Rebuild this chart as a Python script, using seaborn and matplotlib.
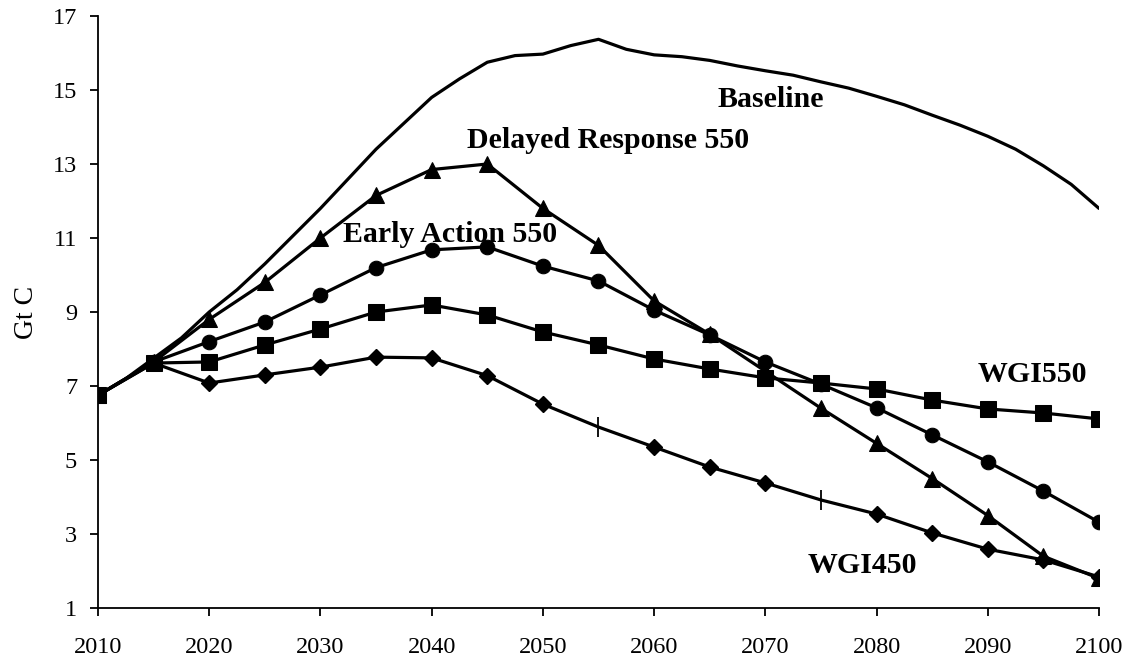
import pandas as pd
import matplotlib
matplotlib.use("Agg")
import matplotlib.pyplot as plt
import seaborn as sns

# data
years = [2010, 2015, 2020, 2025, 2030, 2035, 2040, 2045, 2050, 2055,
         2060, 2065, 2070, 2075, 2080, 2085, 2090, 2095, 2100]

baseline_years = [2010, 2012.5, 2015, 2017.5, 2020, 2022.5, 2025, 2027.5, 2030,
                  2032.5, 2035, 2037.5, 2040, 2042.5, 2045, 2047.5, 2050, 2052.5,
                  2055, 2057.5, 2060, 2062.5, 2065, 2067.5, 2070, 2072.5, 2075,
                  2077.5, 2080, 2082.5, 2085, 2087.5, 2090, 2092.5, 2095, 2097.5, 2100]
baseline = [6.75, 7.2, 7.75, 8.3, 9.0, 9.6, 10.3, 11.05, 11.8,
            12.6, 13.4, 14.1, 14.8, 15.3, 15.75, 15.93, 15.97, 16.2,
            16.37, 16.1, 15.95, 15.9, 15.8, 15.65, 15.52, 15.4, 15.22,
            15.05, 14.83, 14.6, 14.32, 14.05, 13.75, 13.4, 12.95, 12.45, 11.8]

delayed_550 = [6.75, 7.65, 8.8, 9.8, 11.0, 12.15, 12.85, 13.0, 11.8, 10.8,
               9.3, 8.4, 7.4, 6.4, 5.45, 4.5, 3.5, 2.4, 1.8]
early_550 = [6.75, 7.65, 8.2, 8.73, 9.46, 10.2, 10.68, 10.76, 10.24, 9.84,
             9.05, 8.38, 7.65, 7.05, 6.41, 5.68, 4.95, 4.16, 3.32]
wgi550 = [6.75, 7.62, 7.65, 8.11, 8.54, 9.0, 9.19, 8.92, 8.46, 8.11,
          7.73, 7.46, 7.22, 7.08, 6.92, 6.62, 6.38, 6.27, 6.11]
wgi450 = [6.75, 7.62, 7.08, 7.3, 7.51, 7.78, 7.76, 7.28, 6.51, 5.89,
          5.35, 4.81, 4.38, 3.92, 3.54, 3.03, 2.59, 2.3, 1.84]
# years where the WGI450 series shows only a small tick instead of a diamond
wgi450_tick_years = [2055, 2075]

labels = ["Baseline", "Delayed Response 550", "Early Action 550", "WGI550", "WGI450"]
label_pos = [(2065.7, 14.54), (2043.2, 13.43), (2032.0, 10.89), (2089.05, 7.11), (2073.8, 1.95)]

sns.set_style("ticks")
plt.rcParams['font.family'] = ['Liberation Serif', 'DejaVu Serif']
plt.rcParams.update({'text.color': 'black', 'axes.labelcolor': 'black',
                     'xtick.color': 'black', 'ytick.color': 'black'})

fig = plt.figure(figsize=(11.3, 6.59), dpi=100)
ax = fig.add_axes([98 / 1130, 51 / 659, 1001 / 1130, 592 / 659])

lw = 2.3
base_df = pd.DataFrame({'year': baseline_years, 'value': baseline})
sns.lineplot(data=base_df, x='year', y='value', ax=ax, color='black', linewidth=lw)

df = pd.DataFrame({'year': years, 'delayed': delayed_550, 'early': early_550,
                   'wgi550': wgi550, 'wgi450': wgi450})
sns.lineplot(data=df, x='year', y='delayed', ax=ax, color='black', linewidth=lw,
             marker='^', markersize=12, markeredgecolor='black')
sns.lineplot(data=df, x='year', y='early', ax=ax, color='black', linewidth=lw,
             marker='o', markersize=10.5, markeredgecolor='black')
sns.lineplot(data=df, x='year', y='wgi550', ax=ax, color='black', linewidth=lw,
             marker='s', markersize=11, markeredgecolor='black')
sns.lineplot(data=df, x='year', y='wgi450', ax=ax, color='black', linewidth=lw)

dia = df[~df['year'].isin(wgi450_tick_years)]
tick = df[df['year'].isin(wgi450_tick_years)]
ax.plot(dia['year'], dia['wgi450'], linestyle='none', marker='D', markersize=8.5,
        color='black')
ax.plot(tick['year'], tick['wgi450'], linestyle='none', marker='|', markersize=14,
        markeredgewidth=1.3, color='black')

for text, (x, y) in zip(labels, label_pos):
    ax.text(x, y, text, fontsize=21.5, fontweight='bold', ha='left', va='baseline',
            color='black')

ax.set_xlim(2010, 2100)
ax.set_ylim(1, 17)
ax.set_xticks(range(2010, 2101, 10))
ax.set_yticks(range(1, 18, 2))
ax.tick_params(axis='both', direction='out', length=6, width=1.3, colors='black',
               labelsize=17.5)
ax.tick_params(axis='x', pad=15)
ax.tick_params(axis='y', pad=9)
ax.set_xlabel('')
ax.set_ylabel('Gt C', fontsize=20, labelpad=10)
for side in ['top', 'right']:
    ax.spines[side].set_visible(False)
for side in ['left', 'bottom']:
    ax.spines[side].set_linewidth(1.3)
    ax.spines[side].set_color('black')

fig.savefig("out.png", dpi=100)
